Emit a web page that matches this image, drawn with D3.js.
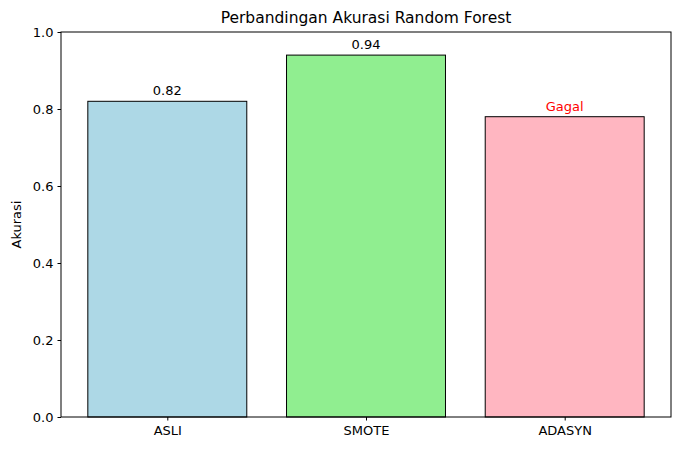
<!DOCTYPE html>
<html>
<head>
<meta charset="utf-8">
<script src="https://cdn.jsdelivr.net/npm/d3@7"></script>
<style>
  body { margin: 0; background: #fff; }
  text { font-family: "DejaVu Sans", sans-serif; }
</style>
</head>
<body>
<script>
// Chart data
var categories = ["ASLI", "SMOTE", "ADASYN"];
var accuracies = [0.82, 0.94, 0.78];
var barLabels = ["0.82", "0.94", "Gagal"];
var labelColors = ["#000", "#000", "red"];
var barColors = ["lightblue", "lightgreen", "lightpink"];
var yTicks = [0, 0.2, 0.4, 0.6, 0.8, 1.0];

var svgWidth = 691, svgHeight = 451;
var margin = { top: 32, right: 20, bottom: 34, left: 61 };
var chartWidth = svgWidth - margin.left - margin.right;
var chartHeight = svgHeight - margin.top - margin.bottom;

var svg = d3.select("body").append("svg")
  .attr("width", svgWidth)
  .attr("height", svgHeight);

var g = svg.append("g")
  .attr("transform", `translate(${margin.left}, ${margin.top})`);

// matplotlib-like x limits around bar indices
var xScale = d3.scaleLinear().domain([-0.535, 2.535]).range([0, chartWidth]);
var yScale = d3.scaleLinear().domain([0, 1]).range([chartHeight, 0]);
var barW = xScale(0.8) - xScale(0);

g.selectAll("rect.bar")
  .data(accuracies)
  .enter().append("rect")
  .attr("x", (d, i) => xScale(i) - barW / 2)
  .attr("y", d => yScale(d))
  .attr("width", barW)
  .attr("height", d => chartHeight - yScale(d))
  .attr("fill", (d, i) => barColors[i])
  .attr("stroke", "#000")
  .attr("stroke-width", 1);

g.selectAll("text.lbl")
  .data(accuracies)
  .enter().append("text")
  .attr("x", (d, i) => xScale(i))
  .attr("y", d => yScale(d) - 6)
  .attr("text-anchor", "middle")
  .attr("font-size", "13px")
  .attr("fill", (d, i) => labelColors[i])
  .text((d, i) => barLabels[i]);

// frame
g.append("rect")
  .attr("width", chartWidth).attr("height", chartHeight)
  .attr("fill", "none").attr("stroke", "#000").attr("stroke-width", 1);

var leftAxis = d3.axisLeft(yScale).tickValues(yTicks).tickFormat(d3.format(".1f")).tickSizeOuter(0).tickSize(3.5).tickPadding(4);
var yAx = g.append("g").call(leftAxis);
yAx.select(".domain").remove();
yAx.selectAll("text").attr("font-size", "13px").attr("font-family", "DejaVu Sans");

var bottomAxis = d3.axisBottom(xScale).tickValues([0, 1, 2]).tickFormat((d) => categories[d]).tickSizeOuter(0).tickSize(3.5).tickPadding(5);
var xAx = g.append("g").attr("transform", `translate(0, ${chartHeight})`).call(bottomAxis);
xAx.select(".domain").remove();
xAx.selectAll("text").attr("font-size", "13px").attr("font-family", "DejaVu Sans");

svg.append("text")
  .attr("transform", "rotate(-90)")
  .attr("x", -(margin.top + chartHeight / 2))
  .attr("y", 21)
  .attr("text-anchor", "middle")
  .attr("font-size", "13px")
  .text("Akurasi");

svg.append("text")
  .attr("x", margin.left + chartWidth / 2)
  .attr("y", 23)
  .attr("text-anchor", "middle")
  .attr("font-size", "15.5px")
  .text("Perbandingan Akurasi Random Forest");
</script>
</body>
</html>
